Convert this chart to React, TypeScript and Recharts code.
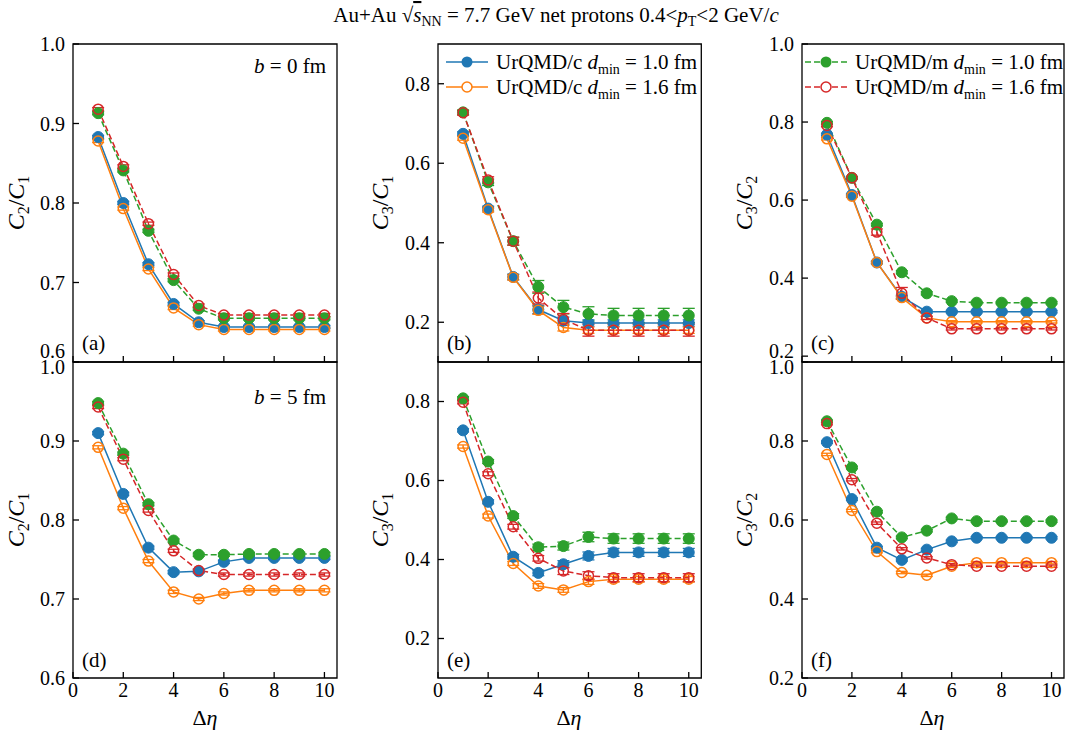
import React from 'react';
import { LineChart, Line, XAxis, YAxis, ErrorBar, ReferenceArea } from 'recharts';

const FONT = '"Liberation Serif", "Times New Roman", Times, serif';
const TXT = { fontFamily: FONT };

// ---------- data ----------
const etaBins = [1, 2, 3, 4, 5, 6, 7, 8, 9, 10];
const xTicks = [0, 2, 4, 6, 8, 10];
const xDomain: [number, number] = [0, 10.5];

// (a) C2/C1, b = 0 fm
const a_c10 = [0.883, 0.8, 0.723, 0.673, 0.65, 0.644, 0.644, 0.644, 0.644, 0.644];
const a_c16 = [0.878, 0.793, 0.717, 0.668, 0.647, 0.641, 0.641, 0.641, 0.641, 0.641];
const a_m10 = [0.913, 0.841, 0.765, 0.703, 0.667, 0.655, 0.655, 0.655, 0.655, 0.655];
const a_m16 = [0.918, 0.846, 0.774, 0.71, 0.671, 0.659, 0.659, 0.659, 0.659, 0.659];
const a_err = [0.002, 0.002, 0.002, 0.002, 0.002, 0.002, 0.002, 0.002, 0.002, 0.002];

// (b) C3/C1, b = 0 fm
const b_c10 = [0.674, 0.486, 0.314, 0.232, 0.204, 0.198, 0.198, 0.198, 0.198, 0.198];
const b_c16 = [0.663, 0.483, 0.313, 0.23, 0.187, 0.18, 0.18, 0.18, 0.18, 0.18];
const b_m10 = [0.728, 0.552, 0.404, 0.289, 0.238, 0.221, 0.217, 0.217, 0.217, 0.217];
const b_m16 = [0.727, 0.558, 0.404, 0.261, 0.207, 0.18, 0.18, 0.18, 0.18, 0.18];
const b_c10e = [0.005, 0.006, 0.007, 0.01, 0.009, 0.008, 0.008, 0.008, 0.008, 0.008];
const b_c16e = [0.005, 0.006, 0.007, 0.01, 0.009, 0.008, 0.008, 0.008, 0.008, 0.008];
const b_m10e = [0.006, 0.008, 0.01, 0.016, 0.017, 0.018, 0.018, 0.018, 0.018, 0.018];
const b_m16e = [0.006, 0.008, 0.01, 0.015, 0.015, 0.015, 0.015, 0.015, 0.015, 0.015];

// (c) C3/C2, b = 0 fm
const c_c10 = [0.768, 0.613, 0.44, 0.352, 0.314, 0.314, 0.314, 0.314, 0.314, 0.314];
const c_c16 = [0.757, 0.61, 0.44, 0.35, 0.298, 0.288, 0.288, 0.288, 0.288, 0.288];
const c_m10 = [0.798, 0.657, 0.537, 0.415, 0.361, 0.341, 0.337, 0.337, 0.337, 0.337];
const c_m16 = [0.791, 0.657, 0.518, 0.361, 0.298, 0.27, 0.27, 0.27, 0.27, 0.27];
const c_err = [0.003, 0.003, 0.003, 0.004, 0.004, 0.003, 0.003, 0.003, 0.003, 0.003];
const c_m16e = [0.003, 0.003, 0.008, 0.015, 0.004, 0.003, 0.003, 0.003, 0.003, 0.003];

// (d) C2/C1, b = 5 fm
const d_c10 = [0.91, 0.833, 0.765, 0.734, 0.735, 0.747, 0.752, 0.752, 0.752, 0.752];
const d_c16 = [0.892, 0.815, 0.748, 0.709, 0.7, 0.707, 0.711, 0.711, 0.711, 0.711];
const d_m10 = [0.948, 0.884, 0.82, 0.774, 0.756, 0.756, 0.757, 0.757, 0.757, 0.757];
const d_m16 = [0.943, 0.877, 0.812, 0.761, 0.736, 0.731, 0.731, 0.731, 0.731, 0.731];
const d_err = [0.002, 0.002, 0.002, 0.002, 0.002, 0.002, 0.002, 0.002, 0.002, 0.002];

// (e) C3/C1, b = 5 fm
const e_c10 = [0.727, 0.546, 0.407, 0.366, 0.388, 0.409, 0.418, 0.418, 0.418, 0.418];
const e_c16 = [0.686, 0.51, 0.39, 0.333, 0.323, 0.344, 0.35, 0.35, 0.35, 0.35];
const e_m10 = [0.808, 0.648, 0.51, 0.431, 0.434, 0.457, 0.453, 0.453, 0.453, 0.453];
const e_m16 = [0.798, 0.617, 0.483, 0.403, 0.371, 0.359, 0.354, 0.354, 0.354, 0.354];
const e_c10e = [0.004, 0.005, 0.006, 0.007, 0.009, 0.01, 0.01, 0.01, 0.01, 0.01];
const e_c16e = [0.004, 0.005, 0.005, 0.006, 0.006, 0.007, 0.007, 0.007, 0.007, 0.007];
const e_m10e = [0.004, 0.005, 0.006, 0.008, 0.01, 0.012, 0.012, 0.012, 0.012, 0.012];
const e_m16e = [0.004, 0.005, 0.006, 0.007, 0.009, 0.01, 0.01, 0.01, 0.01, 0.01];

// (f) C3/C2, b = 5 fm
const f_c10 = [0.797, 0.653, 0.53, 0.499, 0.525, 0.546, 0.555, 0.555, 0.555, 0.555];
const f_c16 = [0.766, 0.624, 0.52, 0.467, 0.46, 0.483, 0.492, 0.492, 0.492, 0.492];
const f_m10 = [0.85, 0.733, 0.621, 0.556, 0.573, 0.604, 0.597, 0.597, 0.597, 0.597];
const f_m16 = [0.844, 0.702, 0.592, 0.527, 0.504, 0.487, 0.483, 0.483, 0.483, 0.483];
const f_err = [0.003, 0.003, 0.003, 0.003, 0.003, 0.003, 0.003, 0.003, 0.003, 0.003];

const ticksC2C1 = [0.6, 0.7, 0.8, 0.9, 1.0];
const ticksC3C1 = [0.2, 0.4, 0.6, 0.8];
const ticksC3C2 = [0.2, 0.4, 0.6, 0.8, 1.0];

// ---------- series styling ----------
const SERIES = [
  { key: 'c10', color: '#1f77b4', dashed: false, filled: true, label: 'UrQMD/c', dmin: '1.0' },
  { key: 'c16', color: '#ff7f0e', dashed: false, filled: false, label: 'UrQMD/c', dmin: '1.6' },
  { key: 'm10', color: '#2ca02c', dashed: true, filled: true, label: 'UrQMD/m', dmin: '1.0' },
  { key: 'm16', color: '#d62728', dashed: true, filled: false, label: 'UrQMD/m', dmin: '1.6' },
];

type Vals = Record<string, number[]>;

function buildRows(values: Vals, errors: Vals) {
  return etaBins.map((x, i) => {
    const row: Record<string, number> = { x };
    SERIES.forEach((s) => {
      row[s.key] = values[s.key][i];
      row[s.key + '_e'] = errors[s.key][i];
    });
    return row;
  });
}

const YW = 60;
const XH = 40;
const MT = 14;
const MR = 8;

const XTick = (props: any) => {
  const { x, y, payload, showLabel } = props;
  return (
    <g>
      <line x1={x} x2={x} y1={y} y2={y - 6} stroke="#000" strokeWidth={1.3} />
      {showLabel && (
        <text x={x} y={y + 19} textAnchor="middle" fontSize={20} style={TXT} fill="#000">
          {payload.value}
        </text>
      )}
    </g>
  );
};

const YTick = (props: any) => {
  const { x, y, payload, shifts } = props;
  const v = Number(payload.value).toFixed(1);
  const dy = shifts && shifts[v] ? shifts[v] : 0;
  return (
    <g>
      <line x1={x} x2={x + 6} y1={y} y2={y} stroke="#000" strokeWidth={1.3} />
      <text x={x - 8} y={y + dy + 7} textAnchor="end" fontSize={20} style={TXT} fill="#000">
        {v}
      </text>
    </g>
  );
};

function Panel(props: {
  left: number;
  top: number;
  w: number;
  h: number;
  yDomain: [number, number];
  yTicks: number[];
  values: Vals;
  errors: Vals;
  showX: boolean;
  shifts?: Record<string, number>;
}) {
  const { left, top, w, h, yDomain, yTicks, values, errors, showX, shifts } = props;
  const rows = buildRows(values, errors);
  return (
    <div style={{ position: 'absolute', left: left - YW, top: top - MT }}>
      <LineChart width={YW + w + MR} height={h + MT + XH} data={rows} margin={{ top: MT, right: MR, bottom: 0, left: 0 }}>
        <XAxis
          xAxisId="B"
          dataKey="x"
          type="number"
          domain={xDomain}
          ticks={xTicks}
          interval={0}
          allowDataOverflow
          height={XH}
          axisLine={false}
          tickLine={false}
          tickSize={0}
          tickMargin={0}
          tick={(p: any) => <XTick {...p} showLabel={showX} />}
        />
        <YAxis
          yAxisId="L"
          type="number"
          domain={yDomain}
          ticks={yTicks}
          interval={0}
          allowDataOverflow
          width={YW}
          axisLine={false}
          tickLine={false}
          tickSize={0}
          tickMargin={0}
          tick={(p: any) => <YTick {...p} shifts={shifts} />}
        />
        <ReferenceArea
          xAxisId="B"
          yAxisId="L"
          x1={xDomain[0]}
          x2={xDomain[1]}
          y1={yDomain[0]}
          y2={yDomain[1]}
          fill="none"
          fillOpacity={0}
          stroke="#000"
          strokeWidth={1.3}
          ifOverflow="visible"
        />
        {SERIES.map((s) => (
          <Line
            key={s.key}
            xAxisId="B"
            yAxisId="L"
            dataKey={s.key}
            stroke={s.color}
            strokeWidth={1.5}
            strokeDasharray={s.dashed ? '6 3' : undefined}
            isAnimationActive={false}
            activeDot={false}
            dot={
              s.filled
                ? { r: 5.5, fill: s.color, stroke: s.color, strokeWidth: 1, strokeDasharray: '' }
                : { r: 5, fill: 'none', stroke: s.color, strokeWidth: 1.5, strokeDasharray: '' }
            }
          >
            <ErrorBar dataKey={s.key + '_e'} width={6} stroke={s.color} strokeWidth={1.3} direction="y" isAnimationActive={false} />
          </Line>
        ))}
      </LineChart>
    </div>
  );
}

const COLS = [
  { left: 73, w: 264 },
  { left: 437.7, w: 263.3 },
  { left: 801.5, w: 262 },
];
const ROWS = [
  { top: 44, h: 318 },
  { top: 362, h: 316 },
];

const Ratio = ({ x, y, a, b }: { x: number; y: number; a: string; b: string }) => (
  <text transform={`translate(${x},${y}) rotate(-90)`} textAnchor="middle" fontSize={24} style={TXT} fill="#000">
    <tspan fontStyle="italic">C</tspan>
    <tspan fontSize={16} dy={5}>{a}</tspan>
    <tspan dy={-5}>/</tspan>
    <tspan fontStyle="italic">C</tspan>
    <tspan fontSize={16} dy={5}>{b}</tspan>
  </text>
);

const LegendRows = ({ x, y, items }: { x: number; y: number; items: typeof SERIES }) => (
  <g>
    {items.map((s, i) => {
      const cy = y + i * 25;
      return (
        <g key={s.key}>
          <line x1={x} x2={x + 42} y1={cy} y2={cy} stroke={s.color} strokeWidth={1.5} strokeDasharray={s.dashed ? '6 3' : undefined} />
          {s.filled ? (
            <circle cx={x + 21} cy={cy} r={5.5} fill={s.color} />
          ) : (
            <circle cx={x + 21} cy={cy} r={5} fill="#fff" stroke={s.color} strokeWidth={1.5} />
          )}
          <text x={x + 50} y={cy + 7} fontSize={21} style={TXT} fill="#000">
            {s.label} <tspan fontStyle="italic">d</tspan>
            <tspan fontSize={14} dy={5}>min</tspan>
            <tspan dy={-5}> = {s.dmin} fm</tspan>
          </text>
        </g>
      );
    })}
  </g>
);

export default function App() {
  return (
    <div style={{ position: 'absolute', left: 0, top: 0, width: 1066, height: 735, background: '#fff', fontFamily: FONT }}>
      <Panel left={COLS[0].left} top={ROWS[0].top} w={COLS[0].w} h={ROWS[0].h} yDomain={[0.6, 1.0]} yTicks={ticksC2C1}
        values={{ c10: a_c10, c16: a_c16, m10: a_m10, m16: a_m16 }} errors={{ c10: a_err, c16: a_err, m10: a_err, m16: a_err }}
        showX={false} shifts={{ '0.6': -11 }} />
      <Panel left={COLS[1].left} top={ROWS[0].top} w={COLS[1].w} h={ROWS[0].h} yDomain={[0.1, 0.9]} yTicks={ticksC3C1}
        values={{ c10: b_c10, c16: b_c16, m10: b_m10, m16: b_m16 }} errors={{ c10: b_c10e, c16: b_c16e, m10: b_m10e, m16: b_m16e }}
        showX={false} />
      <Panel left={COLS[2].left} top={ROWS[0].top} w={COLS[2].w} h={ROWS[0].h} yDomain={[0.185, 1.0]} yTicks={ticksC3C2}
        values={{ c10: c_c10, c16: c_c16, m10: c_m10, m16: c_m16 }} errors={{ c10: c_err, c16: c_err, m10: c_err, m16: c_m16e }}
        showX={false} shifts={{ '0.2': -5 }} />
      <Panel left={COLS[0].left} top={ROWS[1].top} w={COLS[0].w} h={ROWS[1].h} yDomain={[0.6, 1.0]} yTicks={ticksC2C1}
        values={{ c10: d_c10, c16: d_c16, m10: d_m10, m16: d_m16 }} errors={{ c10: d_err, c16: d_err, m10: d_err, m16: d_err }}
        showX={true} shifts={{ '1.0': 5 }} />
      <Panel left={COLS[1].left} top={ROWS[1].top} w={COLS[1].w} h={ROWS[1].h} yDomain={[0.1, 0.9]} yTicks={ticksC3C1}
        values={{ c10: e_c10, c16: e_c16, m10: e_m10, m16: e_m16 }} errors={{ c10: e_c10e, c16: e_c16e, m10: e_m10e, m16: e_m16e }}
        showX={true} />
      <Panel left={COLS[2].left} top={ROWS[1].top} w={COLS[2].w} h={ROWS[1].h} yDomain={[0.2, 1.0]} yTicks={ticksC3C2}
        values={{ c10: f_c10, c16: f_c16, m10: f_m10, m16: f_m16 }} errors={{ c10: f_err, c16: f_err, m10: f_err, m16: f_err }}
        showX={true} shifts={{ '1.0': 5 }} />

      <svg width={1066} height={735} style={{ position: 'absolute', left: 0, top: 0, pointerEvents: 'none' }}>
        <text x={556} y={22} textAnchor="middle" fontSize={21} style={TXT} fill="#000">
          Au+Au √<tspan fontStyle="italic" textDecoration="overline">s</tspan>
          <tspan fontSize={14} dy={4}>NN</tspan>
          <tspan dy={-4}> = 7.7 GeV net protons 0.4&lt;</tspan>
          <tspan fontStyle="italic">p</tspan>
          <tspan fontSize={14} dy={4}>T</tspan>
          <tspan dy={-4}>&lt;2 GeV/</tspan>
          <tspan fontStyle="italic">c</tspan>
        </text>

        <Ratio x={24} y={203} a="2" b="1" />
        <Ratio x={24} y={520} a="2" b="1" />
        <Ratio x={388} y={203} a="3" b="1" />
        <Ratio x={388} y={520} a="3" b="1" />
        <Ratio x={752} y={203} a="3" b="2" />
        <Ratio x={752} y={520} a="3" b="2" />

        {[205, 569, 932].map((cx) => (
          <text key={cx} x={cx} y={725} textAnchor="middle" fontSize={22} style={TXT} fill="#000">
            Δ<tspan fontStyle="italic">η</tspan>
          </text>
        ))}

        <text x={82} y={350} fontSize={21} style={TXT} fill="#000">(a)</text>
        <text x={447} y={350} fontSize={21} style={TXT} fill="#000">(b)</text>
        <text x={811} y={350} fontSize={21} style={TXT} fill="#000">(c)</text>
        <text x={82} y={667} fontSize={21} style={TXT} fill="#000">(d)</text>
        <text x={447} y={667} fontSize={21} style={TXT} fill="#000">(e)</text>
        <text x={811} y={667} fontSize={21} style={TXT} fill="#000">(f)</text>

        <text x={326} y={73} textAnchor="end" fontSize={21} style={TXT} fill="#000">
          <tspan fontStyle="italic">b</tspan> = 0 fm
        </text>
        <text x={326} y={404} textAnchor="end" fontSize={21} style={TXT} fill="#000">
          <tspan fontStyle="italic">b</tspan> = 5 fm
        </text>

        <LegendRows x={446} y={62} items={SERIES.slice(0, 2)} />
        <LegendRows x={805} y={62} items={SERIES.slice(2, 4)} />
      </svg>
    </div>
  );
}
